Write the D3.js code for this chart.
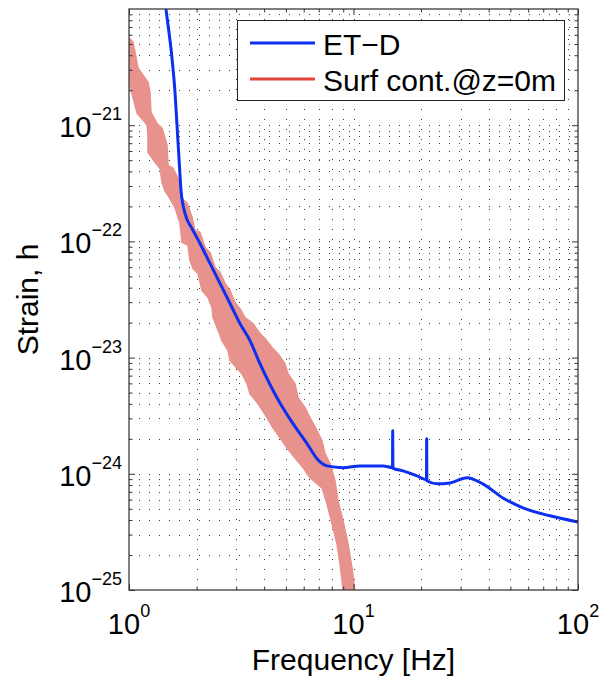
<!DOCTYPE html>
<html>
<head>
<meta charset="utf-8">
<script src="https://cdn.jsdelivr.net/npm/d3@7"></script>
<style>
  html, body { margin: 0; padding: 0; background: #fff; }
  svg { display: block; font-family: "Liberation Sans", Arial, Helvetica, sans-serif; }
</style>
</head>
<body>
<svg id="chart" width="604" height="676"></svg>
<script>
// ET-D design sensitivity curve (frequency in Hz, strain amplitude)
const etdFreq = [1.40, 1.461, 1.554, 1.603, 1.636, 1.670, 1.705, 1.776, 1.909, 2.072, 2.296, 2.543, 2.818,
  3.122, 3.459, 3.80, 4.563, 5.377, 6.209, 6.877, 7.620, 8.980, 10.69, 13.54, 14.92, 14.95, 14.98,
  16.62, 19.18, 21.14, 21.18, 21.22, 23.55, 26.9, 32.0, 37.7, 46.3, 56.9, 75.0, 100];
const etdStrain = [2.0e-20, 1.0e-20, 3.78e-21, 1.92e-21, 1.0e-21, 5.20e-22, 2.75e-22, 1.74e-22, 1.29e-22,
  9.6e-23, 6.46e-23, 4.35e-23, 2.92e-23, 1.96e-23, 1.40e-23, 9.2e-24, 4.52e-24, 2.70e-24, 1.82e-24,
  1.35e-24, 1.17e-24, 1.13e-24, 1.17e-24, 1.17e-24, 1.13e-24, 2.35e-24, 1.12e-24, 1.06e-24, 9.6e-25,
  8.87e-25, 2.0e-24, 8.7e-25, 8.2e-25, 8.35e-25, 9.25e-25, 8.2e-25, 6.2e-25, 5.09e-25, 4.35e-25, 3.85e-25];

// Surface contribution band at z = 0 m: upper (high-frequency) edge
const bandUpperFreq = [1.00, 1.042, 1.097, 1.154, 1.215, 1.240, 1.253, 1.332, 1.403, 1.477, 1.492, 1.570,
  1.653, 1.722, 1.813, 1.909, 1.968, 2.072, 2.181, 2.296, 2.416, 2.543, 2.677, 2.818, 2.966, 3.122, 3.286,
  3.567, 3.832, 4.035, 4.335, 4.611, 4.953, 5.107, 5.488, 5.659, 6.081, 6.401, 6.877, 7.240, 7.467, 7.859,
  8.272, 8.531, 8.980, 9.452, 9.847, 10.2];
const bandUpperStrain = [5.62e-21, 5.20e-21, 3.10e-21, 2.70e-21, 2.35e-21, 1.92e-21, 1.29e-21, 1.04e-21,
  9.42e-22, 6.73e-22, 4.52e-22, 4.26e-22, 3.49e-22, 2.35e-22, 2.13e-22, 1.61e-22, 1.24e-22, 1.20e-22,
  8.87e-23, 8.03e-23, 5.97e-23, 5.41e-23, 4.35e-23, 3.78e-23, 2.98e-23, 2.64e-23, 2.21e-23, 1.96e-23,
  1.61e-23, 1.46e-23, 1.22e-23, 1.08e-23, 8.87e-24, 7.27e-24, 5.97e-24, 4.52e-24, 3.71e-24, 3.04e-24,
  2.35e-24, 1.92e-24, 1.49e-24, 1.22e-24, 8.71e-25, 5.85e-25, 3.94e-25, 2.49e-25, 1.55e-25, 9.0e-26];

// Surface contribution band: lower (low-frequency) edge
const bandLowerFreq = [1.00, 1.086, 1.178, 1.203, 1.215, 1.215, 1.306, 1.374, 1.403, 1.447, 1.492, 1.603,
  1.687, 1.722, 1.831, 1.869, 1.928, 2.029, 2.115, 2.249, 2.343, 2.367, 2.466, 2.596, 2.761, 2.818, 3.186,
  3.355, 3.459, 3.755, 4.120, 4.379, 4.706, 5.056, 5.488, 5.958, 6.401, 7.240, 7.620, 8.023, 8.444, 8.709,
  9.05];
const bandLowerStrain = [2.35e-21, 1.27e-21, 1.06e-21, 1.0e-21, 8.20e-22, 5.85e-22, 4.80e-22, 4.26e-22,
  3.23e-22, 2.70e-22, 2.49e-22, 1.96e-22, 1.43e-22, 9.8e-23, 9.25e-23, 6.86e-23, 5.85e-23, 5.30e-23,
  3.78e-23, 3.29e-23, 2.70e-23, 2.21e-23, 1.82e-23, 1.40e-23, 1.15e-23, 9.42e-24, 7.27e-24, 5.97e-24,
  4.90e-24, 4.01e-24, 3.04e-24, 2.49e-24, 2.04e-24, 1.67e-24, 1.37e-24, 1.13e-24, 9.25e-25, 7.57e-25,
  5.51e-25, 3.71e-25, 2.49e-25, 1.68e-25, 9.0e-26];

const xMajorTicks = [1, 10, 100];
const xTickExponents = ["0", "1", "2"];
const yMajorTicks = [1e-25, 1e-24, 1e-23, 1e-22, 1e-21];
const yTickExponents = ["\u221225", "\u221224", "\u221223", "\u221222", "\u221221"];
const legendLabels = ["ET\u2212D", "Surf cont.@z=0m"];
const seriesColors = ["#0d2ff0", "#e4453d"];
const bandColor = "#e8928d";

const svg = d3.select("#chart");
const plot = { left: 129, right: 578, top: 9, bottom: 590 };

const x = d3.scaleLog().domain([1, 100]).range([plot.left, plot.right]);
const y = d3.scaleLog().domain([1e-25, 1e-20]).range([plot.bottom, plot.top]);

// minor positions: 2..9 within every decade
const xMinor = [];
[1, 10].forEach(d => { for (let k = 2; k <= 9; k++) xMinor.push(k * d); });
const yMinor = [];
[1e-25, 1e-24, 1e-23, 1e-22, 1e-21].forEach(d => { for (let k = 2; k <= 9; k++) yMinor.push(k * d); });

svg.append("defs").append("clipPath").attr("id", "plotClip")
  .append("rect")
  .attr("x", plot.left).attr("y", plot.top)
  .attr("width", plot.right - plot.left).attr("height", plot.bottom - plot.top);

// dotted grid (major and minor)
const grid = svg.append("g").attr("stroke", "#3a3a3a").attr("stroke-width", 1).attr("fill", "none");
const xGrid = xMinor.concat([10]);
const yGrid = yMinor.concat([1e-24, 1e-23, 1e-22, 1e-21]);
grid.selectAll(".gx").data(xGrid).join("line")
  .attr("x1", d => Math.round(x(d)) + 0.5).attr("x2", d => Math.round(x(d)) + 0.5)
  .attr("y1", plot.top).attr("y2", plot.bottom)
  .attr("stroke-dasharray", "1,9");
grid.selectAll(".gy").data(yGrid).join("line")
  .attr("y1", d => Math.round(y(d)) + 0.5).attr("y2", d => Math.round(y(d)) + 0.5)
  .attr("x1", plot.left).attr("x2", plot.right)
  .attr("stroke-dasharray", "1,9");

const content = svg.append("g").attr("clip-path", "url(#plotClip)");

// shaded band
const bandPts = bandUpperFreq.map((f, i) => [f, bandUpperStrain[i]])
  .concat(bandLowerFreq.map((f, i) => [f, bandLowerStrain[i]]).reverse());
content.append("path")
  .datum(bandPts)
  .attr("fill", bandColor)
  .attr("stroke", bandColor)
  .attr("stroke-width", 1.5)
  .attr("stroke-linejoin", "round")
  .attr("d", d3.line().x(d => x(d[0])).y(d => y(d[1])).curve(d3.curveLinearClosed));

// ET-D curve
const etd = etdFreq.map((f, i) => [f, etdStrain[i]]);
content.append("path")
  .datum(etd)
  .attr("fill", "none")
  .attr("stroke", seriesColors[0])
  .attr("stroke-width", 3)
  .attr("stroke-linejoin", "round")
  .attr("d", d3.line().x(d => x(d[0])).y(d => y(d[1])).curve(d3.curveMonotoneX));

// ticks pointing inward on all four sides
function tickAxis(axisFn, scale, values, size, transform) {
  const g = svg.append("g").attr("transform", transform)
    .call(axisFn(scale).tickValues(values).tickSize(size).tickFormat(""));
  g.select(".domain").remove();
  g.selectAll(".tick line").attr("stroke", "#333").attr("stroke-width", 1);
  return g;
}
tickAxis(d3.axisBottom, x, xMajorTicks, -6, `translate(0,${plot.bottom})`);
tickAxis(d3.axisBottom, x, xMinor, -3.5, `translate(0,${plot.bottom})`);
tickAxis(d3.axisTop, x, xMajorTicks, -6, `translate(0,${plot.top})`);
tickAxis(d3.axisTop, x, xMinor, -3.5, `translate(0,${plot.top})`);
tickAxis(d3.axisLeft, y, yMajorTicks, -6, `translate(${plot.left},0)`);
tickAxis(d3.axisLeft, y, yMinor, -3.5, `translate(${plot.left},0)`);
tickAxis(d3.axisRight, y, yMajorTicks, -6, `translate(${plot.right},0)`);
tickAxis(d3.axisRight, y, yMinor, -3.5, `translate(${plot.right},0)`);

// axes box
svg.append("rect")
  .attr("x", plot.left).attr("y", plot.top)
  .attr("width", plot.right - plot.left).attr("height", plot.bottom - plot.top)
  .attr("fill", "none").attr("stroke", "#3c3c3c").attr("stroke-width", 1.3);

// tick labels as powers of ten
const xl = svg.append("g").attr("fill", "#000");
xMajorTicks.forEach((v, i) => {
  const t = xl.append("text").attr("x", x(v)).attr("y", 634)
    .attr("text-anchor", "middle").attr("font-size", 29);
  t.append("tspan").text("10");
  t.append("tspan").attr("dy", -17).attr("font-size", 18).text(xTickExponents[i]);
});
const yl = svg.append("g").attr("fill", "#000");
yMajorTicks.forEach((v, i) => {
  const t = yl.append("text").attr("x", 122).attr("y", y(v) + 12)
    .attr("text-anchor", "end").attr("font-size", 29);
  t.append("tspan").text("10");
  t.append("tspan").attr("dy", -17).attr("font-size", 18).text(yTickExponents[i]);
});

// axis titles
svg.append("text")
  .attr("x", (plot.left + plot.right) / 2).attr("y", 670)
  .attr("text-anchor", "middle").attr("font-size", 30)
  .text("Frequency [Hz]");
svg.append("text")
  .attr("transform", `translate(38,${(plot.top + plot.bottom) / 2}) rotate(-90)`)
  .attr("text-anchor", "middle").attr("font-size", 30)
  .text("Strain, h");

// legend
const legend = svg.append("g");
legend.append("rect")
  .attr("x", 237.5).attr("y", 20.5).attr("width", 327).attr("height", 80)
  .attr("fill", "#fff").attr("stroke", "#222").attr("stroke-width", 1);
legendLabels.forEach((label, i) => {
  const cy = 43 + i * 36;
  legend.append("line")
    .attr("x1", 250).attr("x2", 315).attr("y1", cy).attr("y2", cy)
    .attr("stroke", seriesColors[i]).attr("stroke-width", 3);
  legend.append("text")
    .attr("x", 323).attr("y", cy + 12)
    .attr("font-size", 30)
    .text(label);
});
</script>
</body>
</html>
